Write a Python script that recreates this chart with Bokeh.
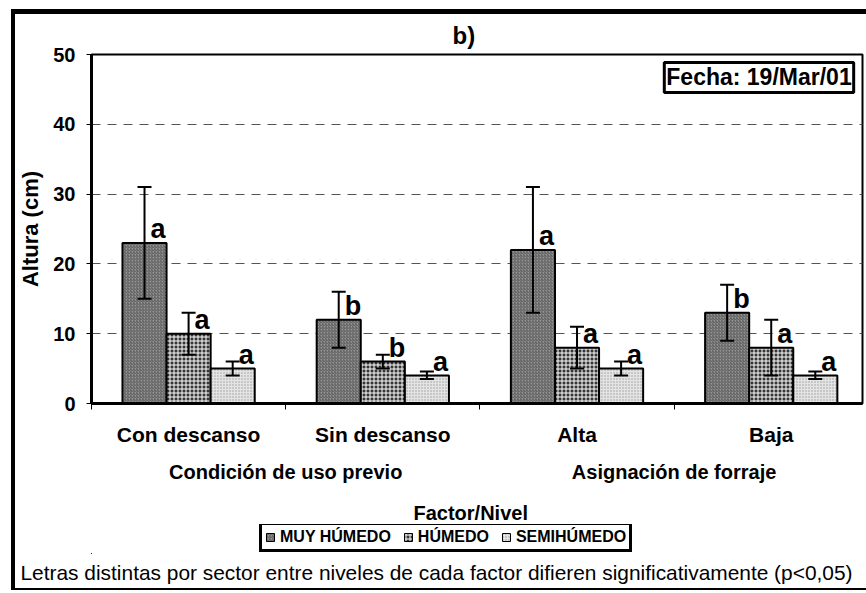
from bokeh.plotting import figure
from bokeh.layouts import column
from bokeh.models import (Range1d, FixedTicker, ColumnDataSource, Whisker, TeeHead,
                          Label, Legend, LegendItem, LinearAxis, Title)
from bokeh.core.properties import value
from bokeh.embed import file_html
from bokeh.resources import INLINE

# ---------------- data ----------------
categories = ["Con descanso", "Sin descanso", "Alta", "Baja"]
factors = ["Condición de uso previo", "Asignación de forraje"]
series_names = ["MUY HÚMEDO", "HÚMEDO", "SEMIHÚMEDO"]

muy_humedo = [23, 12, 22, 13]
muy_humedo_lo = [15, 8, 13, 9]
muy_humedo_hi = [31, 16, 31, 17]

humedo = [10, 6, 8, 8]
humedo_lo = [7, 5, 5, 4]
humedo_hi = [13, 7, 11, 12]

semihumedo = [5, 4, 5, 4]
semihumedo_lo = [4, 3.5, 4, 3.5]
semihumedo_hi = [6, 4.6, 6, 4.6]

letters_mh = ["a", "b", "a", "b"]
letters_h = ["a", "b", "a", "a"]
letters_sh = ["a", "a", "a", "a"]

y_ticks = [0, 10, 20, 30, 40, 50]
title_text = "b)"
date_text = "Fecha: 19/Mar/01"
y_label = "Altura (cm)"
x_label = "Factor/Nivel"
footer_text = "Letras distintas por sector entre niveles de cada factor difieren significativamente (p<0,05)"

# ---------------- layout ----------------
FONT_NAME = "Liberation Sans"
FONT = value(FONT_NAME)
CANVAS_LEFT, CANVAS_TOP, CANVAS_BOTTOM = 15, 14, 588
SPLIT = 492                      # page y where the lower strip starts
W = 866 - CANVAS_LEFT
H1 = SPLIT - CANVAS_TOP
H2 = CANVAS_BOTTOM - SPLIT
X_END = 3.97
frame_left_page, frame_right_page = 88, 862
frame_top_page, frame_bottom_page = 53, 403
px_x = (frame_right_page - frame_left_page) / X_END
px_y = (frame_bottom_page - frame_top_page) / 50.0


def dx(page_x):
    return round((page_x - frame_left_page) / px_x, 3)


def dy(page_y):
    return (frame_bottom_page - page_y) / px_y


p = figure(width=W, height=H1, output_backend="svg", toolbar_location=None,
           x_range=Range1d(0, X_END), y_range=Range1d(0, 50),
           min_border_left=frame_left_page - CANVAS_LEFT,
           min_border_right=866 - frame_right_page,
           min_border_top=frame_top_page - CANVAS_TOP,
           min_border_bottom=SPLIT - frame_bottom_page)
p.outline_line_color = "black"
p.outline_line_width = 2
p.background_fill_color = "white"
p.border_fill_color = "white"

p.title.text = title_text
p.title.align = "left"
p.title.offset = 449 - frame_left_page
p.title.standoff = 11
p.title.text_font = FONT_NAME
p.title.text_font_style = "bold"
p.title.text_font_size = "24px"
p.title.text_color = "black"

p.xgrid.visible = False
p.ygrid.ticker = FixedTicker(ticks=y_ticks)
p.ygrid.grid_line_color = "#555555"
p.ygrid.grid_line_dash = "9 7"
p.ygrid.grid_line_width = 1

p.yaxis.ticker = FixedTicker(ticks=y_ticks)
p.yaxis.major_label_text_font = FONT_NAME
p.yaxis.major_label_text_font_style = "bold"
p.yaxis.major_label_text_font_size = "20px"
p.yaxis.major_label_text_color = "black"
p.yaxis.major_tick_out = 5
p.yaxis.major_tick_in = 0
p.yaxis.minor_tick_line_color = None
p.yaxis.axis_line_width = 3
p.yaxis.major_label_standoff = 11
p.yaxis.axis_label = y_label
p.yaxis.axis_label_text_font = FONT_NAME
p.yaxis.axis_label_text_font_style = "bold"
p.yaxis.axis_label_text_font_size = "22px"
p.yaxis.axis_label_text_color = "black"
p.yaxis.axis_label_standoff = 7

# category axis: labels at group centres, boundary ticks as minor ticks
centers = [i + 0.5 for i in range(len(categories))]
p.xaxis.ticker = FixedTicker(ticks=centers, minor_ticks=[0, 1, 2, 3, 4])
p.xaxis.major_label_overrides = {c: lab for c, lab in zip(centers, categories)}
p.xaxis.major_label_text_font = FONT_NAME
p.xaxis.major_label_text_font_style = "bold"
p.xaxis.major_label_text_font_size = "21px"
p.xaxis.major_label_text_color = "black"
p.xaxis.major_label_standoff = 13
p.xaxis.major_tick_out = 0
p.xaxis.major_tick_in = 0
p.xaxis.major_tick_line_color = None
p.xaxis.minor_tick_out = 6
p.xaxis.minor_tick_in = 0
p.xaxis.minor_tick_line_color = "black"
p.xaxis.minor_tick_line_width = 1
p.xaxis.axis_line_width = 3

# factor axis (second row of labels), centred under each pair of levels
factor_pos = [1.0, 3.0]
ax2 = LinearAxis(ticker=FixedTicker(ticks=factor_pos, minor_ticks=[]),
                 major_label_overrides={fp: f for fp, f in zip(factor_pos, factors)},
                 axis_line_color=None, major_tick_line_color=None,
                 minor_tick_line_color=None, major_tick_out=0, major_tick_in=0,
                 major_label_standoff=12, major_label_text_font=FONT_NAME,
                 major_label_text_font_style="bold", major_label_text_font_size="20px",
                 major_label_text_color="black")
p.add_layout(ax2, "below")

# ---------------- bars ----------------
bw = 0.227
offsets = [-bw, 0.0, bw]
styles = [
    dict(fill_color="#949494", hatch_pattern="right_diagonal_line", hatch_color="#5a5a5a",
         hatch_scale=3, hatch_weight=1),
    dict(fill_color="#353535", hatch_pattern="cross", hatch_color="white",
         hatch_scale=4, hatch_weight=1),
    dict(fill_color="#e4e4e4", hatch_pattern="dot", hatch_color="#9a9a9a",
         hatch_scale=3, hatch_weight=1),
]
vals = [muy_humedo, humedo, semihumedo]
los = [muy_humedo_lo, humedo_lo, semihumedo_lo]
his = [muy_humedo_hi, humedo_hi, semihumedo_hi]
lets = [letters_mh, letters_h, letters_sh]

sources = []
for k in range(3):
    xs = [c + offsets[k] for c in centers]
    src = ColumnDataSource(dict(x=xs, top=vals[k], lo=los[k], hi=his[k], let=lets[k],
                                ly=[v + 2.0 for v in vals[k]]))
    sources.append(src)
    p.vbar(x="x", top="top", bottom=0, width=bw, source=src,
           line_color="black", line_width=2, **styles[k])
    wk = Whisker(source=src, base="x", lower="lo", upper="hi", line_width=2,
                 line_color="black", level="annotation",
                 lower_head=TeeHead(size=14, line_width=2, line_color="black"),
                 upper_head=TeeHead(size=14, line_width=2, line_color="black"))
    p.add_layout(wk)
    p.text(x="x", y="ly", text="let", source=src, text_font=FONT,
           text_font_style="bold", text_font_size="27px", text_color="black",
           text_align="left", text_baseline="alphabetic", x_offset=6)

# date box inside the plot area
p.add_layout(Label(x=dx(758), y=dy(76), x_units="data", y_units="data", text=date_text,
                   text_font=FONT_NAME, text_font_style="bold", text_font_size="23px",
                   text_color="black", text_align="center", text_baseline="middle",
                   border_line_color="black", border_line_width=3,
                   background_fill_color="white", padding=2))

# ---------------- lower strip: axis title, legend, note ----------------
legend_top, legend_bottom = 525, 553
p2 = figure(width=W, height=H2, output_backend="svg", toolbar_location=None,
            x_range=Range1d(0, X_END), y_range=Range1d(0, 1),
            x_axis_location=None, y_axis_location=None,
            min_border_left=frame_left_page - CANVAS_LEFT,
            min_border_right=866 - frame_right_page,
            min_border_top=legend_top - SPLIT - 1,
            min_border_bottom=CANVAS_BOTTOM - legend_bottom)
p2.outline_line_color = None
p2.grid.visible = False
p2.background_fill_color = "white"
p2.border_fill_color = "white"

p2.title.text = x_label
p2.title.align = "left"
p2.title.offset = 410 - frame_left_page
p2.title.standoff = 2
p2.title.text_font = FONT_NAME
p2.title.text_font_style = "bold"
p2.title.text_font_size = "20px"
p2.title.text_color = "black"

# legend proxies: same data, drawn on far off-screen ranges so only the legend shows them
p2.extra_y_ranges = {"hidden": Range1d(1000, 1001)}
p2.extra_x_ranges = {"hidden": Range1d(1000, 1001)}
items = []
for k in range(3):
    r = p2.vbar(x="x", top="top", bottom=0, width=bw, source=sources[k],
                x_range_name="hidden", y_range_name="hidden",
                line_color="black", line_width=1, **styles[k])
    items.append(LegendItem(label=series_names[k], renderers=[r]))

legend = Legend(items=items, orientation="horizontal",
                location=(256 - frame_left_page, 1),
                border_line_color="black", border_line_width=3, border_line_alpha=1,
                background_fill_color="white", background_fill_alpha=1,
                label_text_font=FONT_NAME, label_text_font_style="bold",
                label_text_font_size="16px", label_text_color="black",
                glyph_width=10, glyph_height=10, label_standoff=5, spacing=12,
                padding=3, margin=0, label_height=16)
p2.add_layout(legend)

p2.add_layout(Title(text=footer_text, align="left", offset=17 - frame_left_page,
                    standoff=10, text_font=FONT_NAME, text_font_style="normal",
                    text_font_size="20.9px", text_color="black"), "below")

layout = column(p, p2, spacing=0,
                styles={"margin-left": "11px", "margin-top": "9px",
                        "border-left": "4px solid black", "border-top": "5px solid black",
                        "border-bottom": "2px solid black"})

open("out.html", "w").write(file_html(layout, INLINE))
